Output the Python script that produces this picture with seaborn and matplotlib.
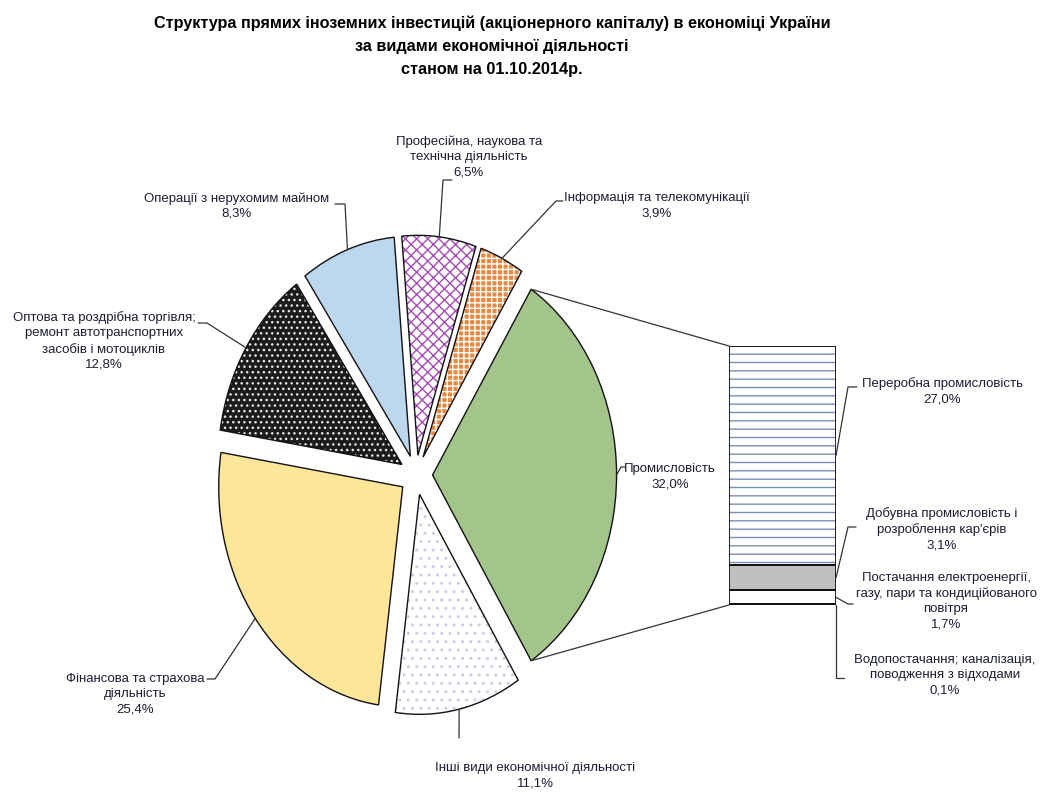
import numpy as np
import matplotlib
matplotlib.use("Agg")
import matplotlib.pyplot as plt
from matplotlib.lines import Line2D
from matplotlib.patches import ConnectionPatch
import seaborn as sns

sns.set_style("white")
plt.rcParams['font.family'] = ['Liberation Sans', 'DejaVu Sans']
plt.rcParams['hatch.linewidth'] = 1.0

# --- Data ---
title = ("Структура прямих іноземних інвестицій (акціонерного капіталу) в економіці України\n"
         "за видами економічної діяльності\nстаном на 01.10.2014р.")

pie_labels = ["Промисловість",
              "Інформація та телекомунікації",
              "Професійна, наукова та\nтехнічна діяльність",
              "Операції з нерухомим майном",
              "Оптова та роздрібна торгівля;\nремонт автотранспортних\nзасобів і мотоциклів",
              "Фінансова та страхова\nдіяльність",
              "Інші види економічної діяльності"]
pie_values = [32.0, 3.9, 6.5, 8.3, 12.8, 25.4, 11.1]

bar_labels = ["Переробна промисловість",
              "Добувна промисловість і\nрозроблення кар'єрів",
              "Постачання електроенергії,\nгазу, пари та кондиційованого\nповітря",
              "Водопостачання; каналізація,\nповодження з відходами"]
bar_values = [27.0, 3.1, 1.7, 0.1]

# --- Style ---
pie_face = ['#A3C48B', '#E8883F', 'white', '#BDD7EE', '#1C1C1C', '#FFE699', 'white']
pie_hatch = [None, '+++', 'xxx', None, '...', None, '..']
pie_hatch_col = [None, 'white', '#A64CB8', None, '#E8E8E8', None, '#CFCAE6']
bar_face = ['white', '#BFBFBF', 'white', '#111111']
bar_hatch = ['--', None, None, None]
bar_hatch_col = ['#7D8CB5', None, None, None]
text_col = '#1B1E33'
line_col = '#333333'
fs = 9.5

W, H = 1040, 792
fig = plt.figure(figsize=(W / 100, H / 100), dpi=100)

def fx(x, y):
    return x / W, 1 - y / H

# label positions (pixels from top-left): text centre, knee, stub end
pie_pos = [((670, 477), (621, 467), (625, 467)),
           ((657, 206), (556, 201), (563, 201)),
           ((469, 157), (443, 180), (452, 180)),
           ((237, 206), (345, 204), (335, 204)),
           ((104, 341), (207, 323), (198, 323)),
           ((135, 694), (215, 679), (207, 679)),
           ((535, 776), (459, 738), (459, 738))]
bar_pos = [((942, 391), (848, 387), (857, 387)),
           ((942, 529), (848, 527), (856, 527)),
           ((946, 601), (848, 604), (853, 604)),
           ((945, 675), (836, 678), (844, 678))]

# --- Pie ---
cx, cy, rx, ry = 416, 475, 184, 220
pie_ax = fig.add_axes([(cx - 1.25 * rx) / W, 1 - (cy + 1.25 * ry) / H, 2.5 * rx / W, 2.5 * ry / H])
start = -pie_values[0] / sum(pie_values) * 180
explode = [0.09] * len(pie_values)

wedges, _ = pie_ax.pie(pie_values, startangle=start, explode=explode, colors=pie_face,
                       wedgeprops=dict(linewidth=0))
for w, h, hc, fc in zip(wedges, pie_hatch, pie_hatch_col, pie_face):
    if h:
        w.set_hatch(h)
        w.set_edgecolor(hc)
    else:
        w.set_edgecolor(fc)
pie_ax.pie(pie_values, startangle=start, explode=explode,
           wedgeprops=dict(fill=False, edgecolor='#111111', linewidth=1.0))
pie_ax.set_aspect('auto')
pie_ax.set_xlim(-1.25, 1.25)
pie_ax.set_ylim(-1.25, 1.25)
pie_ax.axis('off')

# --- Bar of pie ---
total = sum(bar_values)
bottoms = total - np.cumsum(bar_values)
bar_ax = fig.add_axes([729 / W, 1 - 605 / H, 107 / W, 259 / H])
layer = bar_ax.bar(np.zeros(len(bar_values)), bar_values, bottom=bottoms, width=1.0,
                   color=bar_face, linewidth=0)
for b, h, hc, fc in zip(layer, bar_hatch, bar_hatch_col, bar_face):
    if h:
        b.set_hatch(h)
        b.set_edgecolor(hc)
    else:
        b.set_edgecolor(fc)
bar_ax.bar(np.zeros(len(bar_values)), bar_values, bottom=bottoms, width=1.0,
           fill=False, edgecolor='#111111', linewidth=1.3)
bar_ax.set_xlim(-0.5, 0.5)
bar_ax.set_ylim(0, total)
bar_ax.axis('off')

# connector lines from split slice to bar
g = wedges[0]
for ang, yb in [(g.theta2, 1), (g.theta1, 0)]:
    p = (g.center[0] + g.r * np.cos(np.radians(ang)), g.center[1] + g.r * np.sin(np.radians(ang)))
    fig.add_artist(ConnectionPatch(xyA=p, coordsA=pie_ax.transData, xyB=(0, yb),
                                   coordsB=bar_ax.transAxes, color=line_col, lw=0.9))

# --- Labels with leader lines ---
to_fig = fig.transFigure.inverted()

def leader(anchor_disp, knee, stub):
    a = to_fig.transform(anchor_disp)
    k, s = fx(*knee), fx(*stub)
    fig.add_artist(Line2D([a[0], k[0], s[0]], [a[1], k[1], s[1]], transform=fig.transFigure,
                          color=line_col, lw=0.9))

def fmt(name, v):
    return f"{name}\n{v:.1f}%".replace('.', ',')

for w, name, v, (tp, kn, st) in zip(wedges, pie_labels, pie_values, pie_pos):
    mid = np.radians((w.theta1 + w.theta2) / 2)
    p = (w.center[0] + w.r * np.cos(mid), w.center[1] + w.r * np.sin(mid))
    leader(pie_ax.transData.transform(p), kn, st)
    fig.text(*fx(*tp), fmt(name, v), ha='center', va='center', fontsize=fs,
             color=text_col, linespacing=1.35)

for b0, v, name, (tp, kn, st) in zip(bottoms, bar_values, bar_labels, bar_pos):
    leader(bar_ax.transData.transform((0.5, b0 + v / 2)), kn, st)
    fig.text(*fx(*tp), fmt(name, v), ha='center', va='center', fontsize=fs,
             color=text_col, linespacing=1.35)

fig.text(*fx(492, 46), title, ha='center', va='center', fontsize=11.7, fontweight='bold',
         color='black', linespacing=1.65)

fig.savefig("out.png", dpi=100, facecolor='white')
